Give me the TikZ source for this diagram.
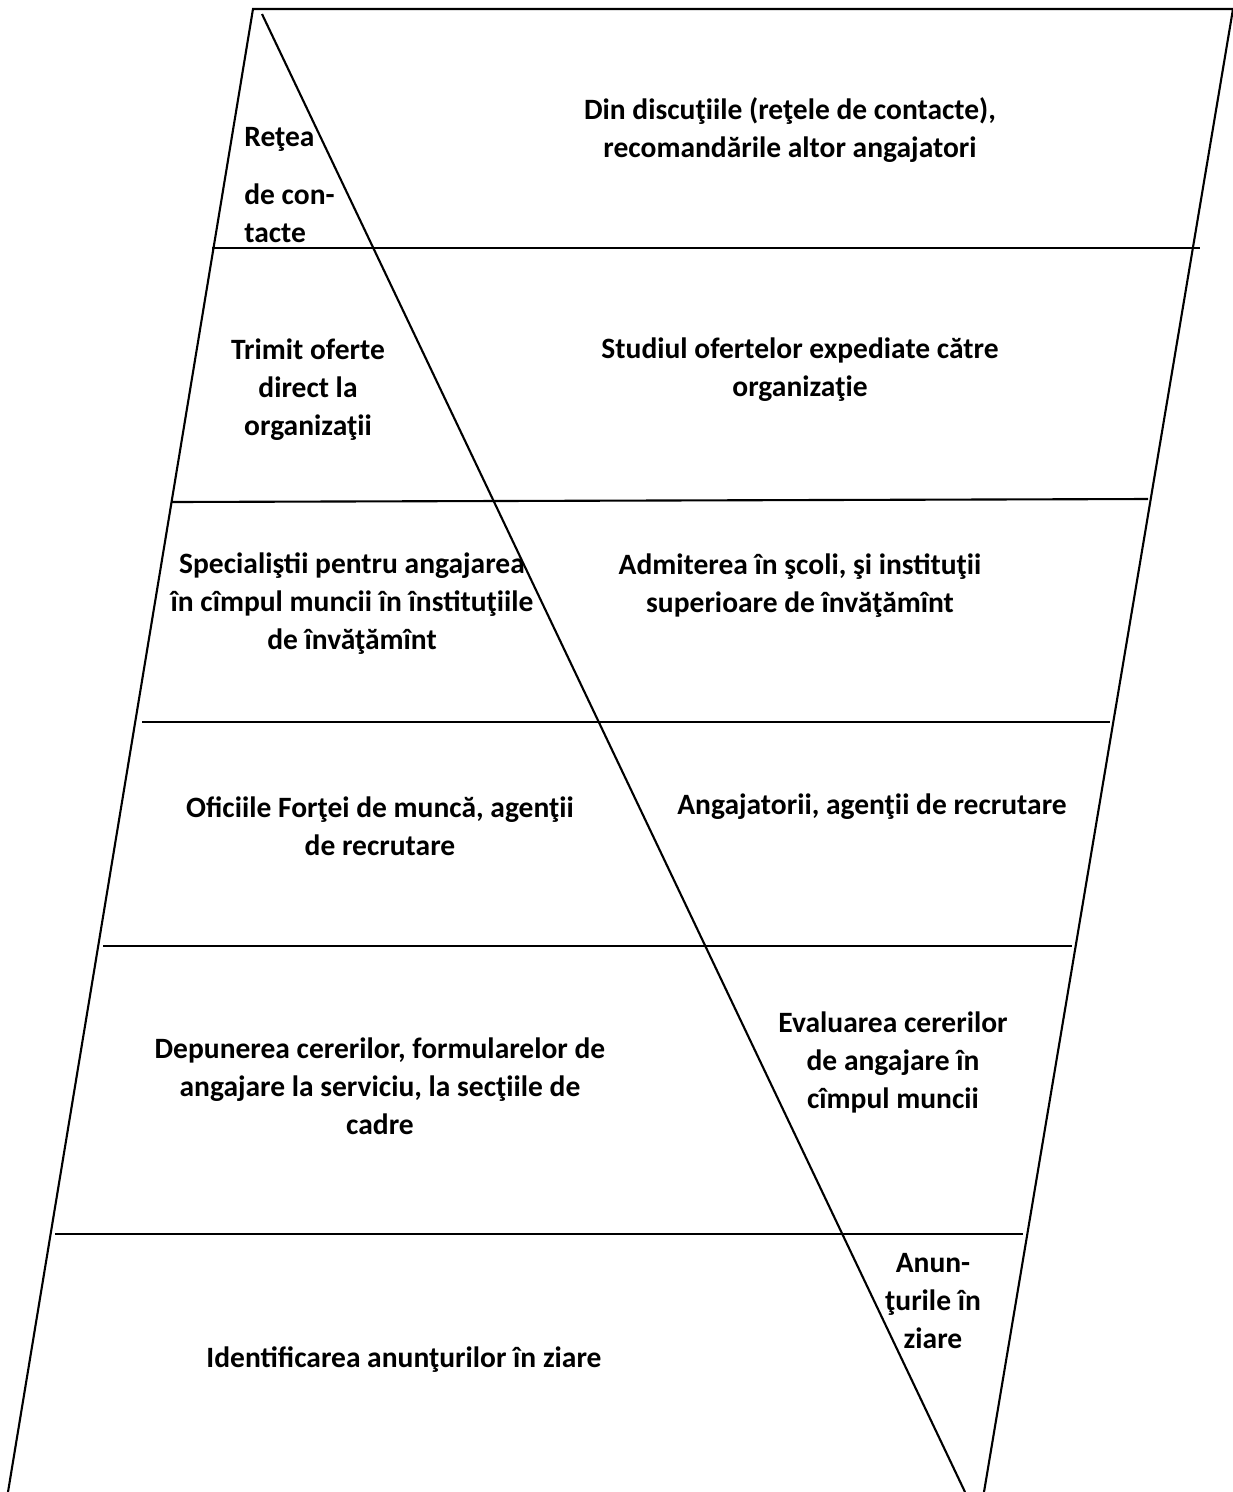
\documentclass[tikz,border=0pt]{standalone}
\usepackage{fontspec}
\setmainfont{Carlito}
\usetikzlibrary{positioning,calc}
\tikzset{
  edge/.style={line width=1.2pt},
  cellText/.style={font=\fontsize{16.8}{21.6}\selectfont\bfseries, align=center, inner sep=0pt},
  cellTextLeft/.style={cellText, align=left, anchor=west},
}

\begin{document}
\begin{tikzpicture}[x=0.02cm,y=-0.02cm]
\useasboundingbox[fill=white] (0,0) rectangle (1233,1492);

% ===== Outer frame and diagonal =====
\coordinate (topL) at (253,9);
\coordinate (topR) at (1233,9);
\coordinate (botL) at (8,1492);
\coordinate (botR) at (984,1492);
\coordinate (diagTop) at (262,14);
\coordinate (diagBot) at (965,1492);
\draw[edge] (botL) -- (topL) -- (topR) -- (botR);
\draw[edge] (diagTop) -- (diagBot);

% ===== Row separators =====
\foreach [count=\i] \yl/\xl/\yr/\xr in {248/212/248/1200, 502/172/499/1148, 722/142/722/1110, 946/103/946/1072, 1234/55/1234/1023} {
  \coordinate (sepL\i) at (\xl,\yl);
  \coordinate (sepR\i) at (\xr,\yr);
  \draw[edge] (sepL\i) -- (sepR\i);
}

% ===== Row 1 =====
\node[cellTextLeft] (retea) at (244,185) {Reţea\\[11pt]de con-\\tacte};
\node[cellText] (discutii) at (790,130) {Din discuţiile (reţele de contacte),\\recomandările altor angajatori};

% ===== Row 2 =====
\node[cellText] (trimit) at (308,390) {Trimit oferte\\direct la\\organizaţii};
\node[cellText] (studiul) at (800,370) {Studiul ofertelor expediate către\\organizaţie};

% ===== Row 3 =====
\node[cellText] (specialisti) at (352,604) {Specialiştii pentru angajarea\\în cîmpul muncii în înstituţiile\\de învăţămînt};
\node[cellText] (admiterea) at (800,586) {Admiterea în şcoli, şi instituţii\\superioare de învăţămînt};

% ===== Row 4 =====
\node[cellText] (oficiile) at (380,826) {Oficiile Forţei de muncă, agenţii\\de recrutare};
\node[cellText] (angajatorii) at (872,807) {Angajatorii, agenţii de recrutare};

% ===== Row 5 =====
\node[cellText] (depunerea) at (380,1086) {Depunerea cererilor, formularelor de\\angajare la serviciu, la secţiile de\\cadre};
\node[cellText] (evaluarea) at (893,1062) {Evaluarea cererilor\\de angajare în\\cîmpul muncii};

% ===== Row 6 =====
\node[cellText] (anunturi) at (933,1301) {Anun-\\ţurile în\\ziare};
\node[cellText] (identificarea) at (404,1360) {Identificarea anunţurilor în ziare};

\end{tikzpicture}
\end{document}
